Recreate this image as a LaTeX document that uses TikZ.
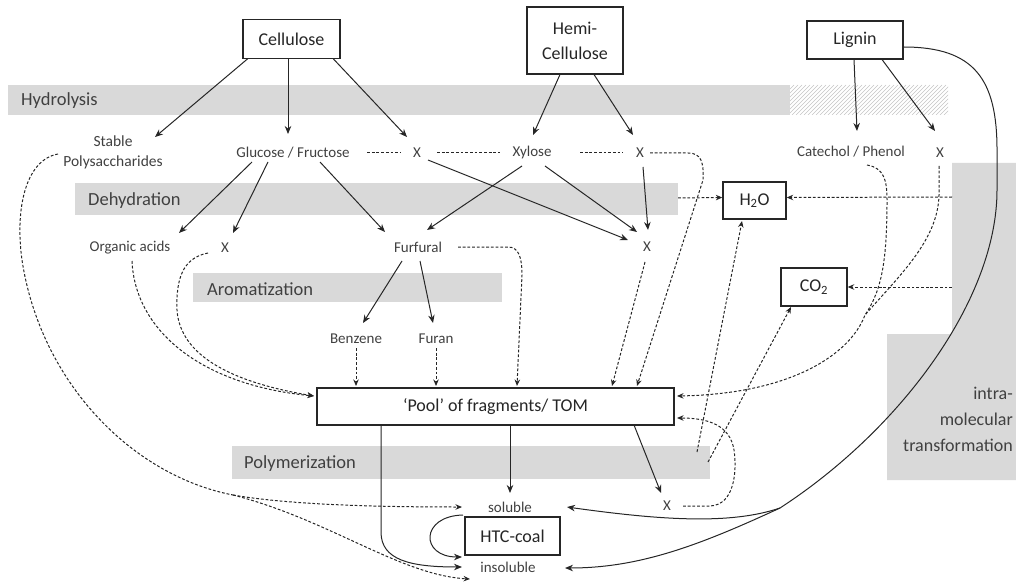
\documentclass[tikz,border=0pt]{standalone}
\usepackage{fontspec}
\setmainfont{Carlito}
\usetikzlibrary{arrows.meta}
\definecolor{bandgray}{RGB}{217,217,217}
\definecolor{hatchgray}{RGB}{196,196,196}
\definecolor{txt}{RGB}{64,64,64}
\definecolor{ink}{RGB}{38,38,38}
\newcommand\bigtxt{\fontsize{18}{22}\selectfont}
\newcommand\bandtxt{\fontsize{18.5}{22}\selectfont}
\newcommand\smalltxt{\fontsize{15}{20}\selectfont}

\begin{document}
\begin{tikzpicture}[x=1pt,y=-1pt,
  box/.style={draw=ink, line width=1.4pt, fill=white, font=\bigtxt, text=ink, inner sep=0pt},
  lbl/.style={font=\smalltxt, text=txt, inner sep=1pt},
  band/.style={fill=bandgray, draw=none},
  bandlbl/.style={font=\bandtxt, text=txt, anchor=west, inner sep=0pt},
  solidarr/.style={draw=ink, line width=1pt, -{Stealth[length=8pt,width=6.5pt]}},
  dsh/.style={draw=ink, line width=1pt, dash pattern=on 2.8pt off 1.9pt},
  dsharr/.style={dsh, -{Stealth[length=6.5pt,width=5.5pt]}},
]
\useasboundingbox (0,0) rectangle (1016,585);

% process bands
\fill[band] (8,85) rectangle (790,115);
\begin{scope}
  \clip (790,85) rectangle (948,115);
  \foreach \i in {756,760,...,952}
    \draw[hatchgray, line width=0.6pt] (\i,115) -- (\i+30,85);
\end{scope}
\fill[band] (75,183) rectangle (678,215);
\fill[band] (193,273) rectangle (502,302);
\fill[band] (232,446) rectangle (710,479);
\fill[band] (952,163) -- (1016,163) -- (1016,480) -- (887,480) -- (887,334) -- (952,334) -- cycle;

\node[bandlbl] at (21,101) {Hydrolysis};
\node[bandlbl] at (88,201) {Dehydration};
\node[bandlbl] at (207,289) {Aromatization};
\node[bandlbl] at (244,464) {Polymerization};
\node[font=\fontsize{18}{26}\selectfont, text=txt, align=right, anchor=east, inner sep=0pt] (intra) at (1013,419) {intra-\\molecular\\transformation};

% free ends on the bands
\coordinate (dehyend) at (678,198);
\coordinate (stripA) at (952,197);
\coordinate (stripB) at (952,287);
\coordinate (polyA) at (697,452);
\coordinate (polyB) at (708,462);
\coordinate (lsplit) at (780,508);
\coordinate (stabsplit) at (233,495);
\coordinate (lmerge) at (865,315);

% boxes
\node[box, minimum width=97pt, minimum height=39pt] (cell) at (291.5,39) {Cellulose};
\node[box, minimum width=96pt, minimum height=67pt, align=center, font=\fontsize{18}{25}\selectfont] (hemi) at (575,40.5) {Hemi-\\Cellulose};
\node[box, minimum width=96pt, minimum height=38pt] (lig) at (855,40) {Lignin};
\node[box, minimum width=63pt, minimum height=37pt] (h2o) at (754.5,200.5) {H\textsubscript{2}O};
\node[box, minimum width=66pt, minimum height=38pt] (co2) at (814,287) {CO\textsubscript{2}};
\node[box, minimum width=357pt, minimum height=37pt] (pool) at (495.5,406.5) {‘Pool’ of fragments/ TOM};
\node[box, minimum width=95pt, minimum height=38pt] (htc) at (512.5,536) {HTC-coal};

% products
\node[lbl, align=center, font=\fontsize{15.5}{20}\selectfont] (stab) at (113,152) {Stable\\Polysaccharides};
\node[lbl] (gluc) at (293,153) {Glucose / Fructose};
\node[lbl] (xa) at (417,153) {X};
\node[lbl] (xyl) at (532,153) {Xylose};
\node[lbl] (xb) at (640,153) {X};
\node[lbl] (cat) at (851,152) {Catechol / Phenol};
\node[lbl] (xc) at (940,153) {X};
\node[lbl] (org) at (130,248) {Organic acids};
\node[lbl] (xd) at (225,248) {X};
\node[lbl] (furf) at (418,247) {Furfural};
\node[lbl] (xe) at (647,247) {X};
\node[lbl] (benz) at (356,339) {Benzene};
\node[lbl] (furan) at (436,339) {Furan};
\node[lbl] (solu) at (510,507) {soluble};
\node[lbl] (insol) at (508,567) {insoluble};
\node[lbl] (xf) at (667,506) {X};

% solid reaction arrows
\draw[solidarr] ([shift={(-43.5,19.5)}]cell.center) -- ([shift={(42,-15)}]stab.center);
\draw[solidarr] ([shift={(-3.5,19.5)}]cell.center) -- ([shift={(-5,-19)}]gluc.center);
\draw[solidarr] ([shift={(41.5,19.5)}]cell.center) -- ([shift={(-10,-16)}]xa.center);
\draw[solidarr] ([shift={(-15,34)}]hemi.center) -- ([shift={(1,-18)}]xyl.center);
\draw[solidarr] ([shift={(19,34)}]hemi.center) -- ([shift={(-7,-18)}]xb.center);
\draw[solidarr] ([shift={(-1,19.5)}]lig.center) -- ([shift={(6,-21)}]cat.center);
\draw[solidarr] ([shift={(27,19.5)}]lig.center) -- ([shift={(-5,-22)}]xc.center);
\draw[solidarr] ([shift={(-41,9)}]gluc.center) -- ([shift={(49,-15)}]org.center);
\draw[solidarr] ([shift={(-25,9)}]gluc.center) -- ([shift={(8,-15)}]xd.center);
\draw[solidarr] ([shift={(27,9)}]gluc.center) -- ([shift={(-33,-15)}]furf.center);
\draw[solidarr] ([shift={(-10,13)}]xyl.center) -- ([shift={(9,-17)}]furf.center);
\draw[solidarr] ([shift={(13,13)}]xyl.center) -- ([shift={(-10,-15)}]xe.center);
\draw[solidarr] ([shift={(11,7)}]xa.center) -- ([shift={(-19,-7)}]xe.center);
\draw[solidarr] ([shift={(3,14)}]xb.center) -- ([shift={(1,-17)}]xe.center);
\draw[solidarr] ([shift={(-16,14)}]furf.center) -- ([shift={(7,-16)}]benz.center);
\draw[solidarr] ([shift={(2,14)}]furf.center) -- ([shift={(-3,-16)}]furan.center);
\draw[solidarr] ([shift={(14.5,18.5)}]pool.center) -- ([shift={(0,-14)}]solu.center);
\draw[solidarr] ([shift={(138.5,18.5)}]pool.center) -- ([shift={(-6,-13)}]xf.center);
\draw[solidarr] ([shift={(-114.5,18.5)}]pool.center) -- (381,532)
  .. controls (381,560) and (410,567) .. ([shift={(-46,0)}]insol.center);
\draw[solidarr] ([shift={(-47,8)}]solu.center) .. controls (420,516) and (420,557) .. ([shift={(-46,-10)}]insol.center);
% lignin directly to the coal
\draw[solidarr] ([shift={(0,7)}]lig.east) .. controls (975,47) and (997,80) .. (997,150) -- (997,190)
  .. controls (997,300) and (900,430) .. (lsplit)
  .. controls (700,545) and (640,568) .. ([shift={(57,1)}]insol.center);
\draw[solidarr] (lsplit) .. controls (730,525) and (660,520) .. ([shift={(57,0)}]solu.center);

% dashed links between the monomers
\draw[dsh] ([shift={(74,0)}]gluc.center) -- ([shift={(-17,0)}]xa.center);
\draw[dsh] ([shift={(20,0)}]xa.center) -- ([shift={(-32,0)}]xyl.center);
\draw[dsh] ([shift={(48,0)}]xyl.center) -- ([shift={(-17,0)}]xb.center);

% dashed arrows into the pool
\draw[dsharr] ([shift={(10,0)}]xb.center) -- (688,153) .. controls (701,153) and (704,162) .. (703,180)
  -- ([shift={(141.5,-20.5)}]pool.center);
\draw[dsharr] ([shift={(-2,15)}]xe.center) -- ([shift={(116.5,-20.5)}]pool.center);
\draw[dsharr] ([shift={(40,0)}]furf.center) -- (508,247) .. controls (519,247) and (522,258) .. (522,275)
  -- ([shift={(21.5,-20.5)}]pool.center);
\draw[dsharr] ([shift={(0,9)}]benz.center) -- ([shift={(-139.5,-20.5)}]pool.center);
\draw[dsharr] ([shift={(0,9)}]furan.center) -- ([shift={(-59.5,-20.5)}]pool.center);
\draw[dsharr] ([shift={(2,13)}]org.center) .. controls (135,330) and (200,385) .. ([shift={(-181.5,-10.5)}]pool.center);
\draw[dsharr] ([shift={(-17,5)}]xd.center) .. controls (182,258) and (176,280) .. (177,310)
  .. controls (180,355) and (230,382) .. ([shift={(-181.5,-10.5)}]pool.center);
\draw[dsharr] ([shift={(16,0)}]xf.center) -- (710,506) .. controls (735,505) and (737,470) .. (734,450)
  .. controls (730,425) and (708,418) .. ([shift={(181.5,11.5)}]pool.center);
\draw[dsharr] ([shift={(16,13)}]cat.center) .. controls (884,168) and (887,180) .. (887,200)
  .. controls (887,260) and (882,290) .. (lmerge)
  .. controls (850,355) and (790,394) .. ([shift={(181.5,-10.5)}]pool.center);
\draw[dsh] ([shift={(-1,13)}]xc.center) -- (939,195) .. controls (938,240) and (900,275) .. (lmerge);

% stable polysaccharides to the coal
\draw[dsh] ([shift={(-55,2)}]stab.center) .. controls (25,160) and (15,210) .. (22,260)
  .. controls (40,380) and (130,475) .. (stabsplit);
\draw[dsharr] (stabsplit) .. controls (290,505) and (380,507) .. ([shift={(-48,0)}]solu.center);
\draw[dsharr] (stabsplit) .. controls (330,520) and (400,575) .. ([shift={(-38,12)}]insol.center);

% water and carbon dioxide
\draw[dsharr] (dehyend) -- ([shift={(0,-3)}]h2o.west);
\draw[dsharr] (stripA) -- ([shift={(0,-3)}]h2o.east);
\draw[dsharr] (stripB) -- (co2.east);
\draw[dsharr] (polyA) -- ([shift={(-12.5,20.5)}]h2o.center);
\draw[dsharr] (polyB) -- ([shift={(-23,20)}]co2.center);
\end{tikzpicture}
\end{document}
